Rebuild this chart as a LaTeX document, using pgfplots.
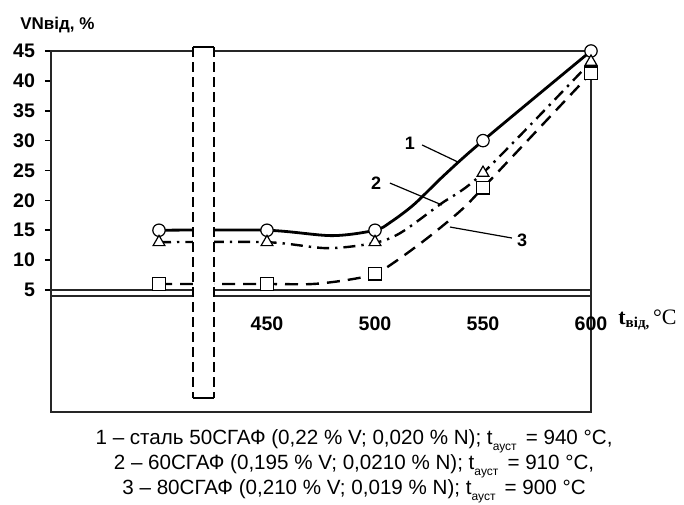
\documentclass[border=0pt]{standalone}
\usepackage{fontspec}
\setmainfont{Liberation Sans}
\newfontfamily\serif{Liberation Serif}
\usepackage{pgfplots}
\pgfplotsset{compat=1.18}
\newcommand\sub[1]{\raisebox{-3pt}{\fontsize{6}{6}\selectfont #1}\,}
\begin{document}
\begin{tikzpicture}
\path[use as bounding box] (0,0) rectangle (342pt,252pt);
\begin{axis}[
 at={(25.5pt,46pt)}, anchor=south west,
 scale only axis, width=270pt, height=180.5pt,
 xmin=350, xmax=600, ymin=-15.42, ymax=45,
 clip=false,
 axis line style={line width=0.9pt, black!85},
 ytick={5,10,...,45},
 ytick pos=left, tick align=outside,
 major tick length=3pt,
 ytick style={line width=0.8pt, black},
 xtick={450,500,550,600},
 xtick style={draw=none},
 xticklabel style={anchor=center, yshift=47pt, font=\bfseries\fontsize{9.8}{10}\selectfont},
 yticklabel style={xshift=-1.5pt, font=\bfseries\fontsize{9.8}{10}\selectfont},
 /pgf/number format/assume math mode=true,
]
% curve 1
\addplot[black, line width=1.4pt, smooth, tension=0.5] coordinates {(400,15)(450,15)(480,14.1)(500,15)(507,16.3)(518,19.3)(532,24.2)(550,30)(600,45)};
% curve 2
\addplot[black, line width=1.2pt, smooth, tension=0.5, dash pattern=on 6pt off 3pt on 1.2pt off 3pt] coordinates {(400,13)(450,13)(478,12.0)(500,12.9)(512,14.6)(530,19.3)(550,24.6)(600,43.2)};
% curve 3
\addplot[black, line width=1.2pt, smooth, tension=0.5, dash pattern=on 6.5pt off 4pt] coordinates {(400,6)(450,6)(471,6.0)(487.5,6.7)(500,7.7)(510,9.9)(525,13.9)(540,18.4)(550,22.1)(600,41.3)};
% marks
\addplot[only marks, mark=*, mark size=3.1pt, mark options={fill=white, draw=black, line width=0.6pt}] coordinates {(400,15)(450,15)(500,15)(550,30)(600,45)};
\addplot[only marks, mark=triangle*, mark size=3.4pt, mark options={fill=white, draw=black, line width=0.6pt}] coordinates {(400,13)(450,13)(500,13)(550,24.6)(600,43.2)};
\addplot[only marks, mark=square*, mark size=3.1pt, mark options={fill=white, draw=black, line width=0.6pt}] coordinates {(400,6)(450,6)(500,7.7)(550,22.1)(600,41.3)};
% double line at 5
\draw[line width=0.8pt, black!85] (axis cs:350,5) -- (axis cs:600,5);
\draw[line width=0.8pt, black!85] (axis cs:350,4) -- (axis cs:600,4);
% break
\fill[white] (axis cs:415.7,-13.08) rectangle (axis cs:425.5,45.67);
\draw[line width=0.9pt, dash pattern=on 5pt off 2.5pt] (axis cs:415.7,45.67) -- (axis cs:415.7,-13.08);
\draw[line width=0.9pt, dash pattern=on 5pt off 2.5pt] (axis cs:425.5,45.67) -- (axis cs:425.5,-13.08);
\draw[line width=0.9pt] (axis cs:415.7,45.67) -- (axis cs:425.5,45.67);
\draw[line width=0.9pt] (axis cs:415.7,-13.08) -- (axis cs:425.5,-13.08);
% curve labels
\node[font=\bfseries\fontsize{9}{10}\selectfont] at (axis cs:516.2,29.6) {1};
\draw[line width=0.6pt] (axis cs:521.8,29.27) -- (axis cs:538.4,26.42);
\node[font=\bfseries\fontsize{9}{10}\selectfont] at (axis cs:500.5,22.9) {2};
\draw[line width=0.6pt] (axis cs:506.9,22.9) -- (axis cs:531,19.23);
\node[font=\bfseries\fontsize{9}{10}\selectfont] at (axis cs:568.1,13.37) {3};
\draw[line width=0.6pt] (axis cs:534.7,15.54) -- (axis cs:563.4,13.7);
% axis labels
\node[anchor=west, inner sep=0, font=\bfseries\fontsize{8.5}{9}\selectfont] at (axis cs:335.6,49.35) {VNвід, \%};
\node[anchor=west, inner sep=0] at (axis cs:612.5,-0.02) {\serif\fontsize{11}{12}\selectfont\textbf{t}\raisebox{-1.5pt}{\fontsize{7.5}{8}\selectfont\textbf{від,}}\,°C};
% caption
\node[align=center, font=\fontsize{10.3}{11.25}\selectfont] at (axis cs:490.3,-24.5) {1 – сталь 50СГАФ (0,22 \% V; 0,020 \% N); t\sub{ауст} = 940 °C,\\ 2 – 60СГАФ (0,195 \% V; 0,0210 \% N); t\sub{ауст} = 910 °C,\\ 3 – 80СГАФ (0,210 \% V; 0,019 \% N); t\sub{ауст} = 900 °C};
\end{axis}
\end{tikzpicture}
\end{document}
